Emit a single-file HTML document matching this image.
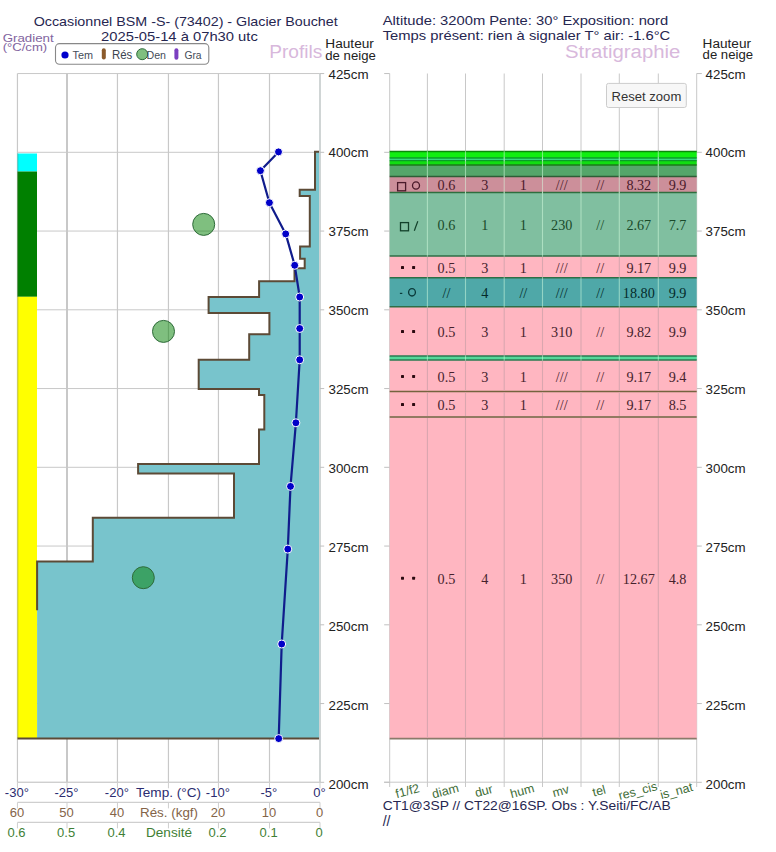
<!DOCTYPE html><html><head><meta charset="utf-8"><style>html,body{margin:0;padding:0;background:#fff;overflow:hidden}svg{display:block}</style></head><body>
<svg width="776" height="852" viewBox="0 0 776 852">
<rect width="776" height="852" fill="#fff"/>
<line x1="17.45" y1="73.5" x2="17.45" y2="782.3" stroke="#c8c8c8" stroke-width="1.2"/>
<line x1="67.00" y1="73.5" x2="67.00" y2="782.3" stroke="#c8c8c8" stroke-width="2"/>
<line x1="117.45" y1="73.5" x2="117.45" y2="782.3" stroke="#c8c8c8" stroke-width="1.2"/>
<line x1="168.45" y1="73.5" x2="168.45" y2="782.3" stroke="#c8c8c8" stroke-width="1.2"/>
<line x1="218.45" y1="73.5" x2="218.45" y2="782.3" stroke="#c8c8c8" stroke-width="1.2"/>
<line x1="269.50" y1="73.5" x2="269.50" y2="782.3" stroke="#c8c8c8" stroke-width="1.2"/>
<line x1="320.00" y1="73.5" x2="320.00" y2="782.3" stroke="#c8c8c8" stroke-width="1.2"/>
<line x1="17.5" y1="782.30" x2="320" y2="782.30" stroke="#c8c8c8" stroke-width="1"/>
<line x1="17.5" y1="703.55" x2="320" y2="703.55" stroke="#c8c8c8" stroke-width="1"/>
<line x1="17.5" y1="624.80" x2="320" y2="624.80" stroke="#c8c8c8" stroke-width="1"/>
<line x1="17.5" y1="546.05" x2="320" y2="546.05" stroke="#c8c8c8" stroke-width="1"/>
<line x1="17.5" y1="467.30" x2="320" y2="467.30" stroke="#c8c8c8" stroke-width="1"/>
<line x1="17.5" y1="388.55" x2="320" y2="388.55" stroke="#c8c8c8" stroke-width="1"/>
<line x1="17.5" y1="309.80" x2="320" y2="309.80" stroke="#c8c8c8" stroke-width="1"/>
<line x1="17.5" y1="231.05" x2="320" y2="231.05" stroke="#c8c8c8" stroke-width="1"/>
<line x1="17.5" y1="152.30" x2="320" y2="152.30" stroke="#c8c8c8" stroke-width="1"/>
<line x1="17.5" y1="73.55" x2="320" y2="73.55" stroke="#c8c8c8" stroke-width="1"/>
<rect x="17.5" y="153.5" width="19.5" height="18" fill="#00ffff"/>
<rect x="17.5" y="171.5" width="19.5" height="125.3" fill="#008000"/>
<rect x="17.5" y="296.8" width="19.5" height="441.7" fill="#ffff00"/>
<line x1="17.9" y1="153.5" x2="17.9" y2="738" stroke="rgba(90,90,60,0.35)" stroke-width="0.8"/>
<path d="M319.5,151.8 L315,151.8 L315,189.7 L299.7,189.7 L299.7,196.1 L309.8,196.1 L309.8,246.5 L300.1,246.5 L300.1,258.8 L304.7,258.8 L304.7,268.2 L294.5,268.2 L294.5,281.3 L259.1,281.3 L259.1,297 L208.6,297 L208.6,312.9 L269.4,312.9 L269.4,334.3 L249.2,334.3 L249.2,359.8 L198.7,359.8 L198.7,388.9 L259,388.9 L259,395 L264.3,395 L264.3,429.6 L259,429.6 L259,463.9 L138.1,463.9 L138.1,473.5 L234,473.5 L234,517.8 L92.8,517.8 L92.8,561.4 L37.1,561.4 L37.1,738.5 L319.5,738.5 Z" fill="#78c4cc" stroke="none"/>
<path d="M319.5,151.8 L315,151.8 L315,189.7 L299.7,189.7 L299.7,196.1 L309.8,196.1 L309.8,246.5 L300.1,246.5 L300.1,258.8 L304.7,258.8 L304.7,268.2 L294.5,268.2 L294.5,281.3 L259.1,281.3 L259.1,297 L208.6,297 L208.6,312.9 L269.4,312.9 L269.4,334.3 L249.2,334.3 L249.2,359.8 L198.7,359.8 L198.7,388.9 L259,388.9 L259,395 L264.3,395 L264.3,429.6 L259,429.6 L259,463.9 L138.1,463.9 L138.1,473.5 L234,473.5 L234,517.8 L92.8,517.8 L92.8,561.4 L37.1,561.4 L37.1,610.2" fill="none" stroke="#5c4a36" stroke-width="2"/>
<line x1="17.5" y1="738.6" x2="319.5" y2="738.6" stroke="#5c4a36" stroke-width="2"/>
<line x1="320.0" y1="73.5" x2="320.0" y2="782.3" stroke="#cfd4d4" stroke-width="1.8"/>
<circle cx="203.7" cy="224.4" r="11" fill="rgba(0,128,0,0.5)" stroke="#2f6b3a" stroke-width="1"/>
<circle cx="163.5" cy="331.4" r="11" fill="rgba(0,128,0,0.5)" stroke="#2f6b3a" stroke-width="1"/>
<circle cx="143.3" cy="577.7" r="11" fill="rgba(0,128,0,0.5)" stroke="#2f6b3a" stroke-width="1"/>
<path d="M278.5,151.9 L260.4,170.7 L269.4,202.7 L285.7,233.9 L294.7,265.3 L299.7,297 L299.7,328.5 L299.7,359.8 L295.9,422.8 L290.5,486.4 L287.8,549.1 L281.7,644 L278.7,738.6" fill="none" stroke="#101c8c" stroke-width="2.2" stroke-linejoin="round"/>
<circle cx="278.5" cy="151.9" r="4" fill="#0000c8" stroke="#fff" stroke-width="1"/>
<circle cx="260.4" cy="170.7" r="4" fill="#0000c8" stroke="#fff" stroke-width="1"/>
<circle cx="269.4" cy="202.7" r="4" fill="#0000c8" stroke="#fff" stroke-width="1"/>
<circle cx="285.7" cy="233.9" r="4" fill="#0000c8" stroke="#fff" stroke-width="1"/>
<circle cx="294.7" cy="265.3" r="4" fill="#0000c8" stroke="#fff" stroke-width="1"/>
<circle cx="299.7" cy="297" r="4" fill="#0000c8" stroke="#fff" stroke-width="1"/>
<circle cx="299.7" cy="328.5" r="4" fill="#0000c8" stroke="#fff" stroke-width="1"/>
<circle cx="299.7" cy="359.8" r="4" fill="#0000c8" stroke="#fff" stroke-width="1"/>
<circle cx="295.9" cy="422.8" r="4" fill="#0000c8" stroke="#fff" stroke-width="1"/>
<circle cx="290.5" cy="486.4" r="4" fill="#0000c8" stroke="#fff" stroke-width="1"/>
<circle cx="287.8" cy="549.1" r="4" fill="#0000c8" stroke="#fff" stroke-width="1"/>
<circle cx="281.7" cy="644" r="4" fill="#0000c8" stroke="#fff" stroke-width="1"/>
<circle cx="278.7" cy="738.6" r="4" fill="#0000c8" stroke="#fff" stroke-width="1"/>
<line x1="320" y1="782.30" x2="324.2" y2="782.30" stroke="#c0c0c0" stroke-width="1"/>
<text x="328.50" y="788.50" font-size="12.5" fill="#222" font-family='"Liberation Sans", sans-serif' textLength="40.00" lengthAdjust="spacingAndGlyphs" >200cm</text>
<line x1="320" y1="703.55" x2="324.2" y2="703.55" stroke="#c0c0c0" stroke-width="1"/>
<text x="328.50" y="709.70" font-size="12.5" fill="#222" font-family='"Liberation Sans", sans-serif' textLength="40.00" lengthAdjust="spacingAndGlyphs" >225cm</text>
<line x1="320" y1="624.80" x2="324.2" y2="624.80" stroke="#c0c0c0" stroke-width="1"/>
<text x="328.50" y="630.70" font-size="12.5" fill="#222" font-family='"Liberation Sans", sans-serif' textLength="40.00" lengthAdjust="spacingAndGlyphs" >250cm</text>
<line x1="320" y1="546.05" x2="324.2" y2="546.05" stroke="#c0c0c0" stroke-width="1"/>
<text x="328.50" y="551.70" font-size="12.5" fill="#222" font-family='"Liberation Sans", sans-serif' textLength="40.00" lengthAdjust="spacingAndGlyphs" >275cm</text>
<line x1="320" y1="467.30" x2="324.2" y2="467.30" stroke="#c0c0c0" stroke-width="1"/>
<text x="328.50" y="472.70" font-size="12.5" fill="#222" font-family='"Liberation Sans", sans-serif' textLength="40.00" lengthAdjust="spacingAndGlyphs" >300cm</text>
<line x1="320" y1="388.55" x2="324.2" y2="388.55" stroke="#c0c0c0" stroke-width="1"/>
<text x="328.50" y="393.70" font-size="12.5" fill="#222" font-family='"Liberation Sans", sans-serif' textLength="40.00" lengthAdjust="spacingAndGlyphs" >325cm</text>
<line x1="320" y1="309.80" x2="324.2" y2="309.80" stroke="#c0c0c0" stroke-width="1"/>
<text x="328.50" y="314.50" font-size="12.5" fill="#222" font-family='"Liberation Sans", sans-serif' textLength="40.00" lengthAdjust="spacingAndGlyphs" >350cm</text>
<line x1="320" y1="231.05" x2="324.2" y2="231.05" stroke="#c0c0c0" stroke-width="1"/>
<text x="328.50" y="235.80" font-size="12.5" fill="#222" font-family='"Liberation Sans", sans-serif' textLength="40.00" lengthAdjust="spacingAndGlyphs" >375cm</text>
<line x1="320" y1="152.30" x2="324.2" y2="152.30" stroke="#c0c0c0" stroke-width="1"/>
<text x="328.50" y="156.70" font-size="12.5" fill="#222" font-family='"Liberation Sans", sans-serif' textLength="40.00" lengthAdjust="spacingAndGlyphs" >400cm</text>
<line x1="320" y1="73.55" x2="324.2" y2="73.55" stroke="#c0c0c0" stroke-width="1"/>
<text x="328.50" y="78.70" font-size="12.5" fill="#222" font-family='"Liberation Sans", sans-serif' textLength="40.00" lengthAdjust="spacingAndGlyphs" >425cm</text>
<line x1="17.5" y1="782.3" x2="320" y2="782.3" stroke="#cfcfcf" stroke-width="1.2"/>
<line x1="17.45" y1="782.3" x2="17.45" y2="788.3" stroke="#cfcfcf" stroke-width="1"/>
<line x1="67.00" y1="782.3" x2="67.00" y2="788.3" stroke="#cfcfcf" stroke-width="1"/>
<line x1="117.45" y1="782.3" x2="117.45" y2="788.3" stroke="#cfcfcf" stroke-width="1"/>
<line x1="168.45" y1="782.3" x2="168.45" y2="788.3" stroke="#cfcfcf" stroke-width="1"/>
<line x1="218.45" y1="782.3" x2="218.45" y2="788.3" stroke="#cfcfcf" stroke-width="1"/>
<line x1="269.50" y1="782.3" x2="269.50" y2="788.3" stroke="#cfcfcf" stroke-width="1"/>
<line x1="320.00" y1="782.3" x2="320.00" y2="788.3" stroke="#cfcfcf" stroke-width="1"/>
<line x1="17.5" y1="802.4" x2="320" y2="802.4" stroke="#cfcfcf" stroke-width="1.2"/>
<line x1="17.45" y1="802.4" x2="17.45" y2="808.4" stroke="#cfcfcf" stroke-width="1"/>
<line x1="67.00" y1="802.4" x2="67.00" y2="808.4" stroke="#cfcfcf" stroke-width="1"/>
<line x1="117.45" y1="802.4" x2="117.45" y2="808.4" stroke="#cfcfcf" stroke-width="1"/>
<line x1="168.45" y1="802.4" x2="168.45" y2="808.4" stroke="#cfcfcf" stroke-width="1"/>
<line x1="218.45" y1="802.4" x2="218.45" y2="808.4" stroke="#cfcfcf" stroke-width="1"/>
<line x1="269.50" y1="802.4" x2="269.50" y2="808.4" stroke="#cfcfcf" stroke-width="1"/>
<line x1="320.00" y1="802.4" x2="320.00" y2="808.4" stroke="#cfcfcf" stroke-width="1"/>
<line x1="17.5" y1="822.4" x2="320" y2="822.4" stroke="#cfcfcf" stroke-width="1.2"/>
<line x1="17.45" y1="822.4" x2="17.45" y2="828.4" stroke="#cfcfcf" stroke-width="1"/>
<line x1="67.00" y1="822.4" x2="67.00" y2="828.4" stroke="#cfcfcf" stroke-width="1"/>
<line x1="117.45" y1="822.4" x2="117.45" y2="828.4" stroke="#cfcfcf" stroke-width="1"/>
<line x1="168.45" y1="822.4" x2="168.45" y2="828.4" stroke="#cfcfcf" stroke-width="1"/>
<line x1="218.45" y1="822.4" x2="218.45" y2="828.4" stroke="#cfcfcf" stroke-width="1"/>
<line x1="269.50" y1="822.4" x2="269.50" y2="828.4" stroke="#cfcfcf" stroke-width="1"/>
<line x1="320.00" y1="822.4" x2="320.00" y2="828.4" stroke="#cfcfcf" stroke-width="1"/>
<text x="16.85" y="797.00" font-size="13" fill="#2c2c70" font-family='"Liberation Sans", sans-serif' text-anchor="middle" >-30°</text>
<text x="16.95" y="817.00" font-size="13" fill="#846448" font-family='"Liberation Sans", sans-serif' text-anchor="middle" >60</text>
<text x="16.55" y="837.20" font-size="13" fill="#3f7f35" font-family='"Liberation Sans", sans-serif' text-anchor="middle" >0.6</text>
<text x="66.40" y="797.00" font-size="13" fill="#2c2c70" font-family='"Liberation Sans", sans-serif' text-anchor="middle" >-25°</text>
<text x="66.50" y="817.00" font-size="13" fill="#846448" font-family='"Liberation Sans", sans-serif' text-anchor="middle" >50</text>
<text x="66.10" y="837.20" font-size="13" fill="#3f7f35" font-family='"Liberation Sans", sans-serif' text-anchor="middle" >0.5</text>
<text x="116.85" y="797.00" font-size="13" fill="#2c2c70" font-family='"Liberation Sans", sans-serif' text-anchor="middle" >-20°</text>
<text x="116.95" y="817.00" font-size="13" fill="#846448" font-family='"Liberation Sans", sans-serif' text-anchor="middle" >40</text>
<text x="116.55" y="837.20" font-size="13" fill="#3f7f35" font-family='"Liberation Sans", sans-serif' text-anchor="middle" >0.4</text>
<text x="217.85" y="797.00" font-size="13" fill="#2c2c70" font-family='"Liberation Sans", sans-serif' text-anchor="middle" >-10°</text>
<text x="217.95" y="817.00" font-size="13" fill="#846448" font-family='"Liberation Sans", sans-serif' text-anchor="middle" >20</text>
<text x="217.55" y="837.20" font-size="13" fill="#3f7f35" font-family='"Liberation Sans", sans-serif' text-anchor="middle" >0.2</text>
<text x="268.90" y="797.00" font-size="13" fill="#2c2c70" font-family='"Liberation Sans", sans-serif' text-anchor="middle" >-5°</text>
<text x="269.00" y="817.00" font-size="13" fill="#846448" font-family='"Liberation Sans", sans-serif' text-anchor="middle" >10</text>
<text x="268.60" y="837.20" font-size="13" fill="#3f7f35" font-family='"Liberation Sans", sans-serif' text-anchor="middle" >0.1</text>
<text x="319.40" y="797.00" font-size="13" fill="#2c2c70" font-family='"Liberation Sans", sans-serif' text-anchor="middle" >0°</text>
<text x="319.50" y="817.00" font-size="13" fill="#846448" font-family='"Liberation Sans", sans-serif' text-anchor="middle" >0</text>
<text x="319.10" y="837.20" font-size="13" fill="#3f7f35" font-family='"Liberation Sans", sans-serif' text-anchor="middle" >0</text>
<text x="136.00" y="797.00" font-size="13" fill="#2c2c70" font-family='"Liberation Sans", sans-serif' textLength="65.00" lengthAdjust="spacingAndGlyphs" >Temp. (°C)</text>
<text x="140.00" y="817.00" font-size="13" fill="#846448" font-family='"Liberation Sans", sans-serif' textLength="58.00" lengthAdjust="spacingAndGlyphs" >Rés. (kgf)</text>
<text x="146.00" y="837.20" font-size="13" fill="#3f7f35" font-family='"Liberation Sans", sans-serif' textLength="46.00" lengthAdjust="spacingAndGlyphs" >Densité</text>
<text x="33.70" y="25.70" font-size="13.5" fill="#262650" font-family='"Liberation Sans", sans-serif' textLength="304.00" lengthAdjust="spacingAndGlyphs" >Occasionnel BSM -S- (73402) - Glacier Bouchet</text>
<text x="101.10" y="40.90" font-size="13.5" fill="#262650" font-family='"Liberation Sans", sans-serif' textLength="156.70" lengthAdjust="spacingAndGlyphs" >2025-05-14 à 07h30 utc</text>
<text x="382.70" y="24.90" font-size="13.5" fill="#262650" font-family='"Liberation Sans", sans-serif' textLength="285.50" lengthAdjust="spacingAndGlyphs" >Altitude: 3200m Pente: 30° Exposition: nord</text>
<text x="382.70" y="39.90" font-size="13.5" fill="#262650" font-family='"Liberation Sans", sans-serif' textLength="287.60" lengthAdjust="spacingAndGlyphs" >Temps présent: rien à signaler T° air: -1.6°C</text>
<text x="2.70" y="41.80" font-size="11.5" fill="#8264a0" font-family='"Liberation Sans", sans-serif' textLength="51.00" lengthAdjust="spacingAndGlyphs" >Gradient</text>
<text x="2.70" y="51.20" font-size="11.5" fill="#8264a0" font-family='"Liberation Sans", sans-serif' textLength="44.50" lengthAdjust="spacingAndGlyphs" >(°C/cm)</text>
<rect x="55.5" y="43.6" width="153.3" height="20.7" rx="4" fill="#fff" stroke="#888" stroke-width="1.1"/>
<circle cx="65" cy="55" r="3.6" fill="#0000cc"/>
<text x="72.50" y="58.60" font-size="10.5" fill="#444c58" font-family='"Liberation Sans", sans-serif' textLength="20.50" lengthAdjust="spacingAndGlyphs" >Tem</text>
<rect x="101.8" y="48.3" width="4" height="11.3" rx="2" fill="#8b5a2b"/>
<text x="111.90" y="58.80" font-size="13" fill="#3c4450" font-family='"Liberation Sans", sans-serif' textLength="20.30" lengthAdjust="spacingAndGlyphs" >Rés</text>
<circle cx="142.2" cy="54.2" r="5.5" fill="rgba(0,128,0,0.5)" stroke="#2f6b3a" stroke-width="1"/>
<text x="146.50" y="58.60" font-size="10.5" fill="#444c58" font-family='"Liberation Sans", sans-serif' textLength="19.50" lengthAdjust="spacingAndGlyphs" >Den</text>
<rect x="174.4" y="48.2" width="4" height="11.6" rx="2" fill="#7b3fc0"/>
<text x="184.40" y="58.60" font-size="10.5" fill="#444c58" font-family='"Liberation Sans", sans-serif' textLength="17.20" lengthAdjust="spacingAndGlyphs" >Gra</text>
<text x="269.20" y="57.60" font-size="18.5" fill="#d8b8dc" font-family='"Liberation Sans", sans-serif' textLength="53.10" lengthAdjust="spacingAndGlyphs" >Profils</text>
<text x="325.30" y="48.10" font-size="12" fill="#222" font-family='"Liberation Sans", sans-serif' textLength="48.60" lengthAdjust="spacingAndGlyphs" >Hauteur</text>
<text x="325.30" y="60.20" font-size="12" fill="#222" font-family='"Liberation Sans", sans-serif' textLength="50.50" lengthAdjust="spacingAndGlyphs" >de neige</text>
<text x="565.00" y="57.80" font-size="18" fill="#d8b8dc" font-family='"Liberation Sans", sans-serif' textLength="115.40" lengthAdjust="spacingAndGlyphs" >Stratigraphie</text>
<text x="702.60" y="47.80" font-size="12" fill="#222" font-family='"Liberation Sans", sans-serif' textLength="48.40" lengthAdjust="spacingAndGlyphs" >Hauteur</text>
<text x="702.60" y="59.20" font-size="12" fill="#222" font-family='"Liberation Sans", sans-serif' textLength="50.40" lengthAdjust="spacingAndGlyphs" >de neige</text>
<line x1="389.7" y1="73.5" x2="389.7" y2="787" stroke="#c8c8c8" stroke-width="1"/>
<line x1="427.4" y1="73.5" x2="427.4" y2="787" stroke="#c8c8c8" stroke-width="1"/>
<line x1="465.5" y1="73.5" x2="465.5" y2="787" stroke="#c8c8c8" stroke-width="1"/>
<line x1="504.2" y1="73.5" x2="504.2" y2="787" stroke="#c8c8c8" stroke-width="1"/>
<line x1="542.5" y1="73.5" x2="542.5" y2="787" stroke="#c8c8c8" stroke-width="1"/>
<line x1="581.0" y1="73.5" x2="581.0" y2="787" stroke="#c8c8c8" stroke-width="1"/>
<line x1="619.3" y1="73.5" x2="619.3" y2="787" stroke="#c8c8c8" stroke-width="1"/>
<line x1="658.3" y1="73.5" x2="658.3" y2="787" stroke="#c8c8c8" stroke-width="1"/>
<line x1="696.7" y1="73.5" x2="696.7" y2="787" stroke="#c8c8c8" stroke-width="1"/>
<line x1="384" y1="782.2" x2="697" y2="782.2" stroke="#c8c8c8" stroke-width="1"/>
<line x1="384.2" y1="782.30" x2="389.7" y2="782.30" stroke="#c0c0c0" stroke-width="1"/>
<line x1="696.7" y1="782.30" x2="701.8" y2="782.30" stroke="#c0c0c0" stroke-width="1"/>
<text x="705.60" y="788.50" font-size="12.5" fill="#222" font-family='"Liberation Sans", sans-serif' textLength="40.00" lengthAdjust="spacingAndGlyphs" >200cm</text>
<line x1="384.2" y1="703.55" x2="389.7" y2="703.55" stroke="#c0c0c0" stroke-width="1"/>
<line x1="696.7" y1="703.55" x2="701.8" y2="703.55" stroke="#c0c0c0" stroke-width="1"/>
<text x="705.60" y="709.70" font-size="12.5" fill="#222" font-family='"Liberation Sans", sans-serif' textLength="40.00" lengthAdjust="spacingAndGlyphs" >225cm</text>
<line x1="384.2" y1="624.80" x2="389.7" y2="624.80" stroke="#c0c0c0" stroke-width="1"/>
<line x1="696.7" y1="624.80" x2="701.8" y2="624.80" stroke="#c0c0c0" stroke-width="1"/>
<text x="705.60" y="630.70" font-size="12.5" fill="#222" font-family='"Liberation Sans", sans-serif' textLength="40.00" lengthAdjust="spacingAndGlyphs" >250cm</text>
<line x1="384.2" y1="546.05" x2="389.7" y2="546.05" stroke="#c0c0c0" stroke-width="1"/>
<line x1="696.7" y1="546.05" x2="701.8" y2="546.05" stroke="#c0c0c0" stroke-width="1"/>
<text x="705.60" y="551.70" font-size="12.5" fill="#222" font-family='"Liberation Sans", sans-serif' textLength="40.00" lengthAdjust="spacingAndGlyphs" >275cm</text>
<line x1="384.2" y1="467.30" x2="389.7" y2="467.30" stroke="#c0c0c0" stroke-width="1"/>
<line x1="696.7" y1="467.30" x2="701.8" y2="467.30" stroke="#c0c0c0" stroke-width="1"/>
<text x="705.60" y="472.70" font-size="12.5" fill="#222" font-family='"Liberation Sans", sans-serif' textLength="40.00" lengthAdjust="spacingAndGlyphs" >300cm</text>
<line x1="384.2" y1="388.55" x2="389.7" y2="388.55" stroke="#c0c0c0" stroke-width="1"/>
<line x1="696.7" y1="388.55" x2="701.8" y2="388.55" stroke="#c0c0c0" stroke-width="1"/>
<text x="705.60" y="393.70" font-size="12.5" fill="#222" font-family='"Liberation Sans", sans-serif' textLength="40.00" lengthAdjust="spacingAndGlyphs" >325cm</text>
<line x1="384.2" y1="309.80" x2="389.7" y2="309.80" stroke="#c0c0c0" stroke-width="1"/>
<line x1="696.7" y1="309.80" x2="701.8" y2="309.80" stroke="#c0c0c0" stroke-width="1"/>
<text x="705.60" y="314.50" font-size="12.5" fill="#222" font-family='"Liberation Sans", sans-serif' textLength="40.00" lengthAdjust="spacingAndGlyphs" >350cm</text>
<line x1="384.2" y1="231.05" x2="389.7" y2="231.05" stroke="#c0c0c0" stroke-width="1"/>
<line x1="696.7" y1="231.05" x2="701.8" y2="231.05" stroke="#c0c0c0" stroke-width="1"/>
<text x="705.60" y="235.80" font-size="12.5" fill="#222" font-family='"Liberation Sans", sans-serif' textLength="40.00" lengthAdjust="spacingAndGlyphs" >375cm</text>
<line x1="384.2" y1="152.30" x2="389.7" y2="152.30" stroke="#c0c0c0" stroke-width="1"/>
<line x1="696.7" y1="152.30" x2="701.8" y2="152.30" stroke="#c0c0c0" stroke-width="1"/>
<text x="705.60" y="156.70" font-size="12.5" fill="#222" font-family='"Liberation Sans", sans-serif' textLength="40.00" lengthAdjust="spacingAndGlyphs" >400cm</text>
<line x1="384.2" y1="73.55" x2="389.7" y2="73.55" stroke="#c0c0c0" stroke-width="1"/>
<line x1="696.7" y1="73.55" x2="701.8" y2="73.55" stroke="#c0c0c0" stroke-width="1"/>
<text x="705.60" y="78.70" font-size="12.5" fill="#222" font-family='"Liberation Sans", sans-serif' textLength="40.00" lengthAdjust="spacingAndGlyphs" >425cm</text>
<rect x="389.7" y="151.5" width="307" height="6.50" fill="#11ee11"/>
<rect x="389.7" y="158.0" width="307" height="2.50" fill="#44ee99"/>
<rect x="389.7" y="160.5" width="307" height="4.50" fill="#11dd11"/>
<rect x="389.7" y="165.0" width="307" height="11.50" fill="#55a66a"/>
<rect x="389.7" y="176.5" width="307" height="16.00" fill="#cc8f9a"/>
<rect x="389.7" y="192.5" width="307" height="63.50" fill="#80bfa0"/>
<rect x="389.7" y="256.0" width="307" height="21.80" fill="#ffb6c1"/>
<rect x="389.7" y="277.8" width="307" height="29.00" fill="#4fa8a8"/>
<rect x="389.7" y="306.8" width="307" height="49.20" fill="#ffb6c1"/>
<rect x="389.7" y="356.0" width="307" height="4.00" fill="#55d89a"/>
<rect x="389.7" y="360.0" width="307" height="31.50" fill="#ffb6c1"/>
<rect x="389.7" y="391.5" width="307" height="25.50" fill="#ffb6c1"/>
<rect x="389.7" y="417.0" width="307" height="321.60" fill="#ffb6c1"/>
<line x1="389.7" y1="151.5" x2="696.7" y2="151.5" stroke="#0a8a0a" stroke-width="1.6"/>
<line x1="389.7" y1="158.0" x2="696.7" y2="158.0" stroke="#0a9a2a" stroke-width="1.6"/>
<line x1="389.7" y1="160.5" x2="696.7" y2="160.5" stroke="#0a9a2a" stroke-width="1.6"/>
<line x1="389.7" y1="165.0" x2="696.7" y2="165.0" stroke="#1a7a1a" stroke-width="1.6"/>
<line x1="389.7" y1="176.5" x2="696.7" y2="176.5" stroke="#2e5e36" stroke-width="1.6"/>
<line x1="389.7" y1="192.5" x2="696.7" y2="192.5" stroke="#2e6e3e" stroke-width="1.6"/>
<line x1="389.7" y1="256.0" x2="696.7" y2="256.0" stroke="#2e6e46" stroke-width="1.6"/>
<line x1="389.7" y1="277.8" x2="696.7" y2="277.8" stroke="#2e6e46" stroke-width="1.6"/>
<line x1="389.7" y1="306.8" x2="696.7" y2="306.8" stroke="#2e6e46" stroke-width="1.6"/>
<line x1="389.7" y1="356.0" x2="696.7" y2="356.0" stroke="#2a7a50" stroke-width="1.6"/>
<line x1="389.7" y1="360.0" x2="696.7" y2="360.0" stroke="#2a7a50" stroke-width="1.6"/>
<line x1="389.7" y1="391.5" x2="696.7" y2="391.5" stroke="#74643f" stroke-width="1.6"/>
<line x1="389.7" y1="417.0" x2="696.7" y2="417.0" stroke="#6e6642" stroke-width="1.6"/>
<line x1="389.7" y1="738.6" x2="696.7" y2="738.6" stroke="#8a7a6a" stroke-width="1.6"/>
<line x1="427.4" y1="150.7" x2="427.4" y2="158.8" stroke="rgba(215,255,225,0.5)" stroke-width="1.1"/>
<line x1="465.5" y1="150.7" x2="465.5" y2="158.8" stroke="rgba(215,255,225,0.5)" stroke-width="1.1"/>
<line x1="504.2" y1="150.7" x2="504.2" y2="158.8" stroke="rgba(215,255,225,0.5)" stroke-width="1.1"/>
<line x1="542.5" y1="150.7" x2="542.5" y2="158.8" stroke="rgba(215,255,225,0.5)" stroke-width="1.1"/>
<line x1="581.0" y1="150.7" x2="581.0" y2="158.8" stroke="rgba(215,255,225,0.5)" stroke-width="1.1"/>
<line x1="619.3" y1="150.7" x2="619.3" y2="158.8" stroke="rgba(215,255,225,0.5)" stroke-width="1.1"/>
<line x1="658.3" y1="150.7" x2="658.3" y2="158.8" stroke="rgba(215,255,225,0.5)" stroke-width="1.1"/>
<line x1="427.4" y1="157.2" x2="427.4" y2="161.3" stroke="rgba(215,255,225,0.5)" stroke-width="1.1"/>
<line x1="465.5" y1="157.2" x2="465.5" y2="161.3" stroke="rgba(215,255,225,0.5)" stroke-width="1.1"/>
<line x1="504.2" y1="157.2" x2="504.2" y2="161.3" stroke="rgba(215,255,225,0.5)" stroke-width="1.1"/>
<line x1="542.5" y1="157.2" x2="542.5" y2="161.3" stroke="rgba(215,255,225,0.5)" stroke-width="1.1"/>
<line x1="581.0" y1="157.2" x2="581.0" y2="161.3" stroke="rgba(215,255,225,0.5)" stroke-width="1.1"/>
<line x1="619.3" y1="157.2" x2="619.3" y2="161.3" stroke="rgba(215,255,225,0.5)" stroke-width="1.1"/>
<line x1="658.3" y1="157.2" x2="658.3" y2="161.3" stroke="rgba(215,255,225,0.5)" stroke-width="1.1"/>
<line x1="427.4" y1="159.7" x2="427.4" y2="165.8" stroke="rgba(215,255,225,0.5)" stroke-width="1.1"/>
<line x1="465.5" y1="159.7" x2="465.5" y2="165.8" stroke="rgba(215,255,225,0.5)" stroke-width="1.1"/>
<line x1="504.2" y1="159.7" x2="504.2" y2="165.8" stroke="rgba(215,255,225,0.5)" stroke-width="1.1"/>
<line x1="542.5" y1="159.7" x2="542.5" y2="165.8" stroke="rgba(215,255,225,0.5)" stroke-width="1.1"/>
<line x1="581.0" y1="159.7" x2="581.0" y2="165.8" stroke="rgba(215,255,225,0.5)" stroke-width="1.1"/>
<line x1="619.3" y1="159.7" x2="619.3" y2="165.8" stroke="rgba(215,255,225,0.5)" stroke-width="1.1"/>
<line x1="658.3" y1="159.7" x2="658.3" y2="165.8" stroke="rgba(215,255,225,0.5)" stroke-width="1.1"/>
<line x1="427.4" y1="164.2" x2="427.4" y2="177.3" stroke="rgba(215,255,225,0.5)" stroke-width="1.1"/>
<line x1="465.5" y1="164.2" x2="465.5" y2="177.3" stroke="rgba(215,255,225,0.5)" stroke-width="1.1"/>
<line x1="504.2" y1="164.2" x2="504.2" y2="177.3" stroke="rgba(215,255,225,0.5)" stroke-width="1.1"/>
<line x1="542.5" y1="164.2" x2="542.5" y2="177.3" stroke="rgba(215,255,225,0.5)" stroke-width="1.1"/>
<line x1="581.0" y1="164.2" x2="581.0" y2="177.3" stroke="rgba(215,255,225,0.5)" stroke-width="1.1"/>
<line x1="619.3" y1="164.2" x2="619.3" y2="177.3" stroke="rgba(215,255,225,0.5)" stroke-width="1.1"/>
<line x1="658.3" y1="164.2" x2="658.3" y2="177.3" stroke="rgba(215,255,225,0.5)" stroke-width="1.1"/>
<line x1="427.4" y1="175.7" x2="427.4" y2="193.3" stroke="rgba(215,255,225,0.5)" stroke-width="1.1"/>
<line x1="465.5" y1="175.7" x2="465.5" y2="193.3" stroke="rgba(215,255,225,0.5)" stroke-width="1.1"/>
<line x1="504.2" y1="175.7" x2="504.2" y2="193.3" stroke="rgba(215,255,225,0.5)" stroke-width="1.1"/>
<line x1="542.5" y1="175.7" x2="542.5" y2="193.3" stroke="rgba(215,255,225,0.5)" stroke-width="1.1"/>
<line x1="581.0" y1="175.7" x2="581.0" y2="193.3" stroke="rgba(215,255,225,0.5)" stroke-width="1.1"/>
<line x1="619.3" y1="175.7" x2="619.3" y2="193.3" stroke="rgba(215,255,225,0.5)" stroke-width="1.1"/>
<line x1="658.3" y1="175.7" x2="658.3" y2="193.3" stroke="rgba(215,255,225,0.5)" stroke-width="1.1"/>
<line x1="427.4" y1="191.7" x2="427.4" y2="256.8" stroke="rgba(215,255,225,0.5)" stroke-width="1.1"/>
<line x1="465.5" y1="191.7" x2="465.5" y2="256.8" stroke="rgba(215,255,225,0.5)" stroke-width="1.1"/>
<line x1="504.2" y1="191.7" x2="504.2" y2="256.8" stroke="rgba(215,255,225,0.5)" stroke-width="1.1"/>
<line x1="542.5" y1="191.7" x2="542.5" y2="256.8" stroke="rgba(215,255,225,0.5)" stroke-width="1.1"/>
<line x1="581.0" y1="191.7" x2="581.0" y2="256.8" stroke="rgba(215,255,225,0.5)" stroke-width="1.1"/>
<line x1="619.3" y1="191.7" x2="619.3" y2="256.8" stroke="rgba(215,255,225,0.5)" stroke-width="1.1"/>
<line x1="658.3" y1="191.7" x2="658.3" y2="256.8" stroke="rgba(215,255,225,0.5)" stroke-width="1.1"/>
<line x1="427.4" y1="257.0" x2="427.4" y2="276.8" stroke="#daa6af" stroke-width="1.1"/>
<line x1="465.5" y1="257.0" x2="465.5" y2="276.8" stroke="#daa6af" stroke-width="1.1"/>
<line x1="504.2" y1="257.0" x2="504.2" y2="276.8" stroke="#daa6af" stroke-width="1.1"/>
<line x1="542.5" y1="257.0" x2="542.5" y2="276.8" stroke="#daa6af" stroke-width="1.1"/>
<line x1="581.0" y1="257.0" x2="581.0" y2="276.8" stroke="#daa6af" stroke-width="1.1"/>
<line x1="619.3" y1="257.0" x2="619.3" y2="276.8" stroke="#daa6af" stroke-width="1.1"/>
<line x1="658.3" y1="257.0" x2="658.3" y2="276.8" stroke="#daa6af" stroke-width="1.1"/>
<line x1="427.4" y1="277.0" x2="427.4" y2="307.6" stroke="rgba(215,255,225,0.5)" stroke-width="1.1"/>
<line x1="465.5" y1="277.0" x2="465.5" y2="307.6" stroke="rgba(215,255,225,0.5)" stroke-width="1.1"/>
<line x1="504.2" y1="277.0" x2="504.2" y2="307.6" stroke="rgba(215,255,225,0.5)" stroke-width="1.1"/>
<line x1="542.5" y1="277.0" x2="542.5" y2="307.6" stroke="rgba(215,255,225,0.5)" stroke-width="1.1"/>
<line x1="581.0" y1="277.0" x2="581.0" y2="307.6" stroke="rgba(215,255,225,0.5)" stroke-width="1.1"/>
<line x1="619.3" y1="277.0" x2="619.3" y2="307.6" stroke="rgba(215,255,225,0.5)" stroke-width="1.1"/>
<line x1="658.3" y1="277.0" x2="658.3" y2="307.6" stroke="rgba(215,255,225,0.5)" stroke-width="1.1"/>
<line x1="427.4" y1="307.8" x2="427.4" y2="355.0" stroke="#daa6af" stroke-width="1.1"/>
<line x1="465.5" y1="307.8" x2="465.5" y2="355.0" stroke="#daa6af" stroke-width="1.1"/>
<line x1="504.2" y1="307.8" x2="504.2" y2="355.0" stroke="#daa6af" stroke-width="1.1"/>
<line x1="542.5" y1="307.8" x2="542.5" y2="355.0" stroke="#daa6af" stroke-width="1.1"/>
<line x1="581.0" y1="307.8" x2="581.0" y2="355.0" stroke="#daa6af" stroke-width="1.1"/>
<line x1="619.3" y1="307.8" x2="619.3" y2="355.0" stroke="#daa6af" stroke-width="1.1"/>
<line x1="658.3" y1="307.8" x2="658.3" y2="355.0" stroke="#daa6af" stroke-width="1.1"/>
<line x1="427.4" y1="355.2" x2="427.4" y2="360.8" stroke="rgba(215,255,225,0.5)" stroke-width="1.1"/>
<line x1="465.5" y1="355.2" x2="465.5" y2="360.8" stroke="rgba(215,255,225,0.5)" stroke-width="1.1"/>
<line x1="504.2" y1="355.2" x2="504.2" y2="360.8" stroke="rgba(215,255,225,0.5)" stroke-width="1.1"/>
<line x1="542.5" y1="355.2" x2="542.5" y2="360.8" stroke="rgba(215,255,225,0.5)" stroke-width="1.1"/>
<line x1="581.0" y1="355.2" x2="581.0" y2="360.8" stroke="rgba(215,255,225,0.5)" stroke-width="1.1"/>
<line x1="619.3" y1="355.2" x2="619.3" y2="360.8" stroke="rgba(215,255,225,0.5)" stroke-width="1.1"/>
<line x1="658.3" y1="355.2" x2="658.3" y2="360.8" stroke="rgba(215,255,225,0.5)" stroke-width="1.1"/>
<line x1="427.4" y1="361.0" x2="427.4" y2="390.5" stroke="#daa6af" stroke-width="1.1"/>
<line x1="465.5" y1="361.0" x2="465.5" y2="390.5" stroke="#daa6af" stroke-width="1.1"/>
<line x1="504.2" y1="361.0" x2="504.2" y2="390.5" stroke="#daa6af" stroke-width="1.1"/>
<line x1="542.5" y1="361.0" x2="542.5" y2="390.5" stroke="#daa6af" stroke-width="1.1"/>
<line x1="581.0" y1="361.0" x2="581.0" y2="390.5" stroke="#daa6af" stroke-width="1.1"/>
<line x1="619.3" y1="361.0" x2="619.3" y2="390.5" stroke="#daa6af" stroke-width="1.1"/>
<line x1="658.3" y1="361.0" x2="658.3" y2="390.5" stroke="#daa6af" stroke-width="1.1"/>
<line x1="427.4" y1="392.5" x2="427.4" y2="416.0" stroke="#daa6af" stroke-width="1.1"/>
<line x1="465.5" y1="392.5" x2="465.5" y2="416.0" stroke="#daa6af" stroke-width="1.1"/>
<line x1="504.2" y1="392.5" x2="504.2" y2="416.0" stroke="#daa6af" stroke-width="1.1"/>
<line x1="542.5" y1="392.5" x2="542.5" y2="416.0" stroke="#daa6af" stroke-width="1.1"/>
<line x1="581.0" y1="392.5" x2="581.0" y2="416.0" stroke="#daa6af" stroke-width="1.1"/>
<line x1="619.3" y1="392.5" x2="619.3" y2="416.0" stroke="#daa6af" stroke-width="1.1"/>
<line x1="658.3" y1="392.5" x2="658.3" y2="416.0" stroke="#daa6af" stroke-width="1.1"/>
<line x1="427.4" y1="418.0" x2="427.4" y2="737.6" stroke="#daa6af" stroke-width="1.1"/>
<line x1="465.5" y1="418.0" x2="465.5" y2="737.6" stroke="#daa6af" stroke-width="1.1"/>
<line x1="504.2" y1="418.0" x2="504.2" y2="737.6" stroke="#daa6af" stroke-width="1.1"/>
<line x1="542.5" y1="418.0" x2="542.5" y2="737.6" stroke="#daa6af" stroke-width="1.1"/>
<line x1="581.0" y1="418.0" x2="581.0" y2="737.6" stroke="#daa6af" stroke-width="1.1"/>
<line x1="619.3" y1="418.0" x2="619.3" y2="737.6" stroke="#daa6af" stroke-width="1.1"/>
<line x1="658.3" y1="418.0" x2="658.3" y2="737.6" stroke="#daa6af" stroke-width="1.1"/>
<text x="446.45" y="190.00" font-size="14.2" fill="#4a1a2a" font-family='"Liberation Serif", serif' text-anchor="middle" >0.6</text>
<text x="484.85" y="190.00" font-size="14.2" fill="#4a1a2a" font-family='"Liberation Serif", serif' text-anchor="middle" >3</text>
<text x="523.35" y="190.00" font-size="14.2" fill="#4a1a2a" font-family='"Liberation Serif", serif' text-anchor="middle" >1</text>
<text x="561.75" y="190.00" font-size="14.2" fill="#4a1a2a" font-family='"Liberation Serif", serif' text-anchor="middle" >///</text>
<text x="600.15" y="190.00" font-size="14.2" fill="#4a1a2a" font-family='"Liberation Serif", serif' text-anchor="middle" >//</text>
<text x="638.80" y="190.00" font-size="14.2" fill="#4a1a2a" font-family='"Liberation Serif", serif' text-anchor="middle" >8.32</text>
<text x="677.50" y="190.00" font-size="14.2" fill="#4a1a2a" font-family='"Liberation Serif", serif' text-anchor="middle" >9.9</text>
<text x="446.45" y="230.00" font-size="14.2" fill="#1a4a2a" font-family='"Liberation Serif", serif' text-anchor="middle" >0.6</text>
<text x="484.85" y="230.00" font-size="14.2" fill="#1a4a2a" font-family='"Liberation Serif", serif' text-anchor="middle" >1</text>
<text x="523.35" y="230.00" font-size="14.2" fill="#1a4a2a" font-family='"Liberation Serif", serif' text-anchor="middle" >1</text>
<text x="561.75" y="230.00" font-size="14.2" fill="#1a4a2a" font-family='"Liberation Serif", serif' text-anchor="middle" >230</text>
<text x="600.15" y="230.00" font-size="14.2" fill="#1a4a2a" font-family='"Liberation Serif", serif' text-anchor="middle" >//</text>
<text x="638.80" y="230.00" font-size="14.2" fill="#1a4a2a" font-family='"Liberation Serif", serif' text-anchor="middle" >2.67</text>
<text x="677.50" y="230.00" font-size="14.2" fill="#1a4a2a" font-family='"Liberation Serif", serif' text-anchor="middle" >7.7</text>
<text x="446.45" y="272.50" font-size="14.2" fill="#45222c" font-family='"Liberation Serif", serif' text-anchor="middle" >0.5</text>
<text x="484.85" y="272.50" font-size="14.2" fill="#45222c" font-family='"Liberation Serif", serif' text-anchor="middle" >3</text>
<text x="523.35" y="272.50" font-size="14.2" fill="#45222c" font-family='"Liberation Serif", serif' text-anchor="middle" >1</text>
<text x="561.75" y="272.50" font-size="14.2" fill="#45222c" font-family='"Liberation Serif", serif' text-anchor="middle" >///</text>
<text x="600.15" y="272.50" font-size="14.2" fill="#45222c" font-family='"Liberation Serif", serif' text-anchor="middle" >//</text>
<text x="638.80" y="272.50" font-size="14.2" fill="#45222c" font-family='"Liberation Serif", serif' text-anchor="middle" >9.17</text>
<text x="677.50" y="272.50" font-size="14.2" fill="#45222c" font-family='"Liberation Serif", serif' text-anchor="middle" >9.9</text>
<text x="446.45" y="297.80" font-size="14.2" fill="#042a2a" font-family='"Liberation Serif", serif' text-anchor="middle" >//</text>
<text x="484.85" y="297.80" font-size="14.2" fill="#042a2a" font-family='"Liberation Serif", serif' text-anchor="middle" >4</text>
<text x="523.35" y="297.80" font-size="14.2" fill="#042a2a" font-family='"Liberation Serif", serif' text-anchor="middle" >//</text>
<text x="561.75" y="297.80" font-size="14.2" fill="#042a2a" font-family='"Liberation Serif", serif' text-anchor="middle" >///</text>
<text x="600.15" y="297.80" font-size="14.2" fill="#042a2a" font-family='"Liberation Serif", serif' text-anchor="middle" >//</text>
<text x="638.80" y="297.80" font-size="14.2" fill="#042a2a" font-family='"Liberation Serif", serif' text-anchor="middle" >18.80</text>
<text x="677.50" y="297.80" font-size="14.2" fill="#042a2a" font-family='"Liberation Serif", serif' text-anchor="middle" >9.9</text>
<text x="446.45" y="336.90" font-size="14.2" fill="#45222c" font-family='"Liberation Serif", serif' text-anchor="middle" >0.5</text>
<text x="484.85" y="336.90" font-size="14.2" fill="#45222c" font-family='"Liberation Serif", serif' text-anchor="middle" >3</text>
<text x="523.35" y="336.90" font-size="14.2" fill="#45222c" font-family='"Liberation Serif", serif' text-anchor="middle" >1</text>
<text x="561.75" y="336.90" font-size="14.2" fill="#45222c" font-family='"Liberation Serif", serif' text-anchor="middle" >310</text>
<text x="600.15" y="336.90" font-size="14.2" fill="#45222c" font-family='"Liberation Serif", serif' text-anchor="middle" >//</text>
<text x="638.80" y="336.90" font-size="14.2" fill="#45222c" font-family='"Liberation Serif", serif' text-anchor="middle" >9.82</text>
<text x="677.50" y="336.90" font-size="14.2" fill="#45222c" font-family='"Liberation Serif", serif' text-anchor="middle" >9.9</text>
<text x="446.45" y="381.50" font-size="14.2" fill="#45222c" font-family='"Liberation Serif", serif' text-anchor="middle" >0.5</text>
<text x="484.85" y="381.50" font-size="14.2" fill="#45222c" font-family='"Liberation Serif", serif' text-anchor="middle" >3</text>
<text x="523.35" y="381.50" font-size="14.2" fill="#45222c" font-family='"Liberation Serif", serif' text-anchor="middle" >1</text>
<text x="561.75" y="381.50" font-size="14.2" fill="#45222c" font-family='"Liberation Serif", serif' text-anchor="middle" >///</text>
<text x="600.15" y="381.50" font-size="14.2" fill="#45222c" font-family='"Liberation Serif", serif' text-anchor="middle" >//</text>
<text x="638.80" y="381.50" font-size="14.2" fill="#45222c" font-family='"Liberation Serif", serif' text-anchor="middle" >9.17</text>
<text x="677.50" y="381.50" font-size="14.2" fill="#45222c" font-family='"Liberation Serif", serif' text-anchor="middle" >9.4</text>
<text x="446.45" y="409.80" font-size="14.2" fill="#45222c" font-family='"Liberation Serif", serif' text-anchor="middle" >0.5</text>
<text x="484.85" y="409.80" font-size="14.2" fill="#45222c" font-family='"Liberation Serif", serif' text-anchor="middle" >3</text>
<text x="523.35" y="409.80" font-size="14.2" fill="#45222c" font-family='"Liberation Serif", serif' text-anchor="middle" >1</text>
<text x="561.75" y="409.80" font-size="14.2" fill="#45222c" font-family='"Liberation Serif", serif' text-anchor="middle" >///</text>
<text x="600.15" y="409.80" font-size="14.2" fill="#45222c" font-family='"Liberation Serif", serif' text-anchor="middle" >//</text>
<text x="638.80" y="409.80" font-size="14.2" fill="#45222c" font-family='"Liberation Serif", serif' text-anchor="middle" >9.17</text>
<text x="677.50" y="409.80" font-size="14.2" fill="#45222c" font-family='"Liberation Serif", serif' text-anchor="middle" >8.5</text>
<text x="446.45" y="583.50" font-size="14.2" fill="#45222c" font-family='"Liberation Serif", serif' text-anchor="middle" >0.5</text>
<text x="484.85" y="583.50" font-size="14.2" fill="#45222c" font-family='"Liberation Serif", serif' text-anchor="middle" >4</text>
<text x="523.35" y="583.50" font-size="14.2" fill="#45222c" font-family='"Liberation Serif", serif' text-anchor="middle" >1</text>
<text x="561.75" y="583.50" font-size="14.2" fill="#45222c" font-family='"Liberation Serif", serif' text-anchor="middle" >350</text>
<text x="600.15" y="583.50" font-size="14.2" fill="#45222c" font-family='"Liberation Serif", serif' text-anchor="middle" >//</text>
<text x="638.80" y="583.50" font-size="14.2" fill="#45222c" font-family='"Liberation Serif", serif' text-anchor="middle" >12.67</text>
<text x="677.50" y="583.50" font-size="14.2" fill="#45222c" font-family='"Liberation Serif", serif' text-anchor="middle" >4.8</text>
<rect x="397.6" y="182.6" width="8" height="8.2" fill="none" stroke="#4a1a2a" stroke-width="1.3"/>
<ellipse cx="416" cy="185.5" rx="3.5" ry="3.7" fill="none" stroke="#4a1a2a" stroke-width="1.3"/>
<rect x="400.5" y="222.6" width="8" height="8.2" fill="none" stroke="#12402a" stroke-width="1.3"/>
<line x1="417.8" y1="221.3" x2="414.3" y2="230.8" stroke="#12402a" stroke-width="1.2"/>
<rect x="399.9" y="292.8" width="2.4" height="1.2" fill="#0a3a3a"/>
<ellipse cx="412" cy="292.3" rx="3.4" ry="3.7" fill="none" stroke="#0a3a3a" stroke-width="1.3"/>
<rect x="401.0" y="266.0" width="3" height="3" rx="0.6" fill="#2a0a10"/>
<rect x="412.1" y="266.0" width="3" height="3" rx="0.6" fill="#2a0a10"/>
<rect x="401.0" y="330.1" width="3" height="3" rx="0.6" fill="#2a0a10"/>
<rect x="412.1" y="330.1" width="3" height="3" rx="0.6" fill="#2a0a10"/>
<rect x="401.0" y="374.9" width="3" height="3" rx="0.6" fill="#2a0a10"/>
<rect x="412.1" y="374.9" width="3" height="3" rx="0.6" fill="#2a0a10"/>
<rect x="401.0" y="403.1" width="3" height="3" rx="0.6" fill="#2a0a10"/>
<rect x="412.1" y="403.1" width="3" height="3" rx="0.6" fill="#2a0a10"/>
<rect x="401.0" y="576.7" width="3" height="3" rx="0.6" fill="#2a0a10"/>
<rect x="412.1" y="576.7" width="3" height="3" rx="0.6" fill="#2a0a10"/>
<rect x="606.5" y="83.4" width="79.8" height="24.1" rx="2" fill="#f7f7f7" stroke="#cccccc" stroke-width="1"/>
<text x="611.50" y="100.70" font-size="12" fill="#333" font-family='"Liberation Sans", sans-serif' textLength="69.80" lengthAdjust="spacingAndGlyphs" >Reset zoom</text>
<text x="0" y="0" font-size="12.5" fill="#3f6e38" font-family='"Liberation Sans", sans-serif' text-anchor="middle" transform="translate(408.55,795) rotate(-15)">f1/f2</text>
<text x="0" y="0" font-size="12.5" fill="#3f6e38" font-family='"Liberation Sans", sans-serif' text-anchor="middle" transform="translate(446.45,795) rotate(-15)">diam</text>
<text x="0" y="0" font-size="12.5" fill="#3f6e38" font-family='"Liberation Sans", sans-serif' text-anchor="middle" transform="translate(484.85,795) rotate(-15)">dur</text>
<text x="0" y="0" font-size="12.5" fill="#3f6e38" font-family='"Liberation Sans", sans-serif' text-anchor="middle" transform="translate(523.35,795) rotate(-15)">hum</text>
<text x="0" y="0" font-size="12.5" fill="#3f6e38" font-family='"Liberation Sans", sans-serif' text-anchor="middle" transform="translate(561.75,795) rotate(-15)">mv</text>
<text x="0" y="0" font-size="12.5" fill="#3f6e38" font-family='"Liberation Sans", sans-serif' text-anchor="middle" transform="translate(600.15,795) rotate(-15)">tel</text>
<text x="0" y="0" font-size="12.5" fill="#3f6e38" font-family='"Liberation Sans", sans-serif' text-anchor="middle" transform="translate(638.80,795) rotate(-15)">res_cis</text>
<text x="0" y="0" font-size="12.5" fill="#3f6e38" font-family='"Liberation Sans", sans-serif' text-anchor="middle" transform="translate(677.50,795) rotate(-15)">is_nat</text>
<text x="382.70" y="809.60" font-size="13" fill="#262650" font-family='"Liberation Sans", sans-serif' textLength="288.00" lengthAdjust="spacingAndGlyphs" >CT1@3SP // CT22@16SP. Obs : Y.Seiti/FC/AB</text>
<text x="382.70" y="825.70" font-size="14" fill="#262650" font-family='"Liberation Sans", sans-serif' >//</text>
</svg></body></html>
